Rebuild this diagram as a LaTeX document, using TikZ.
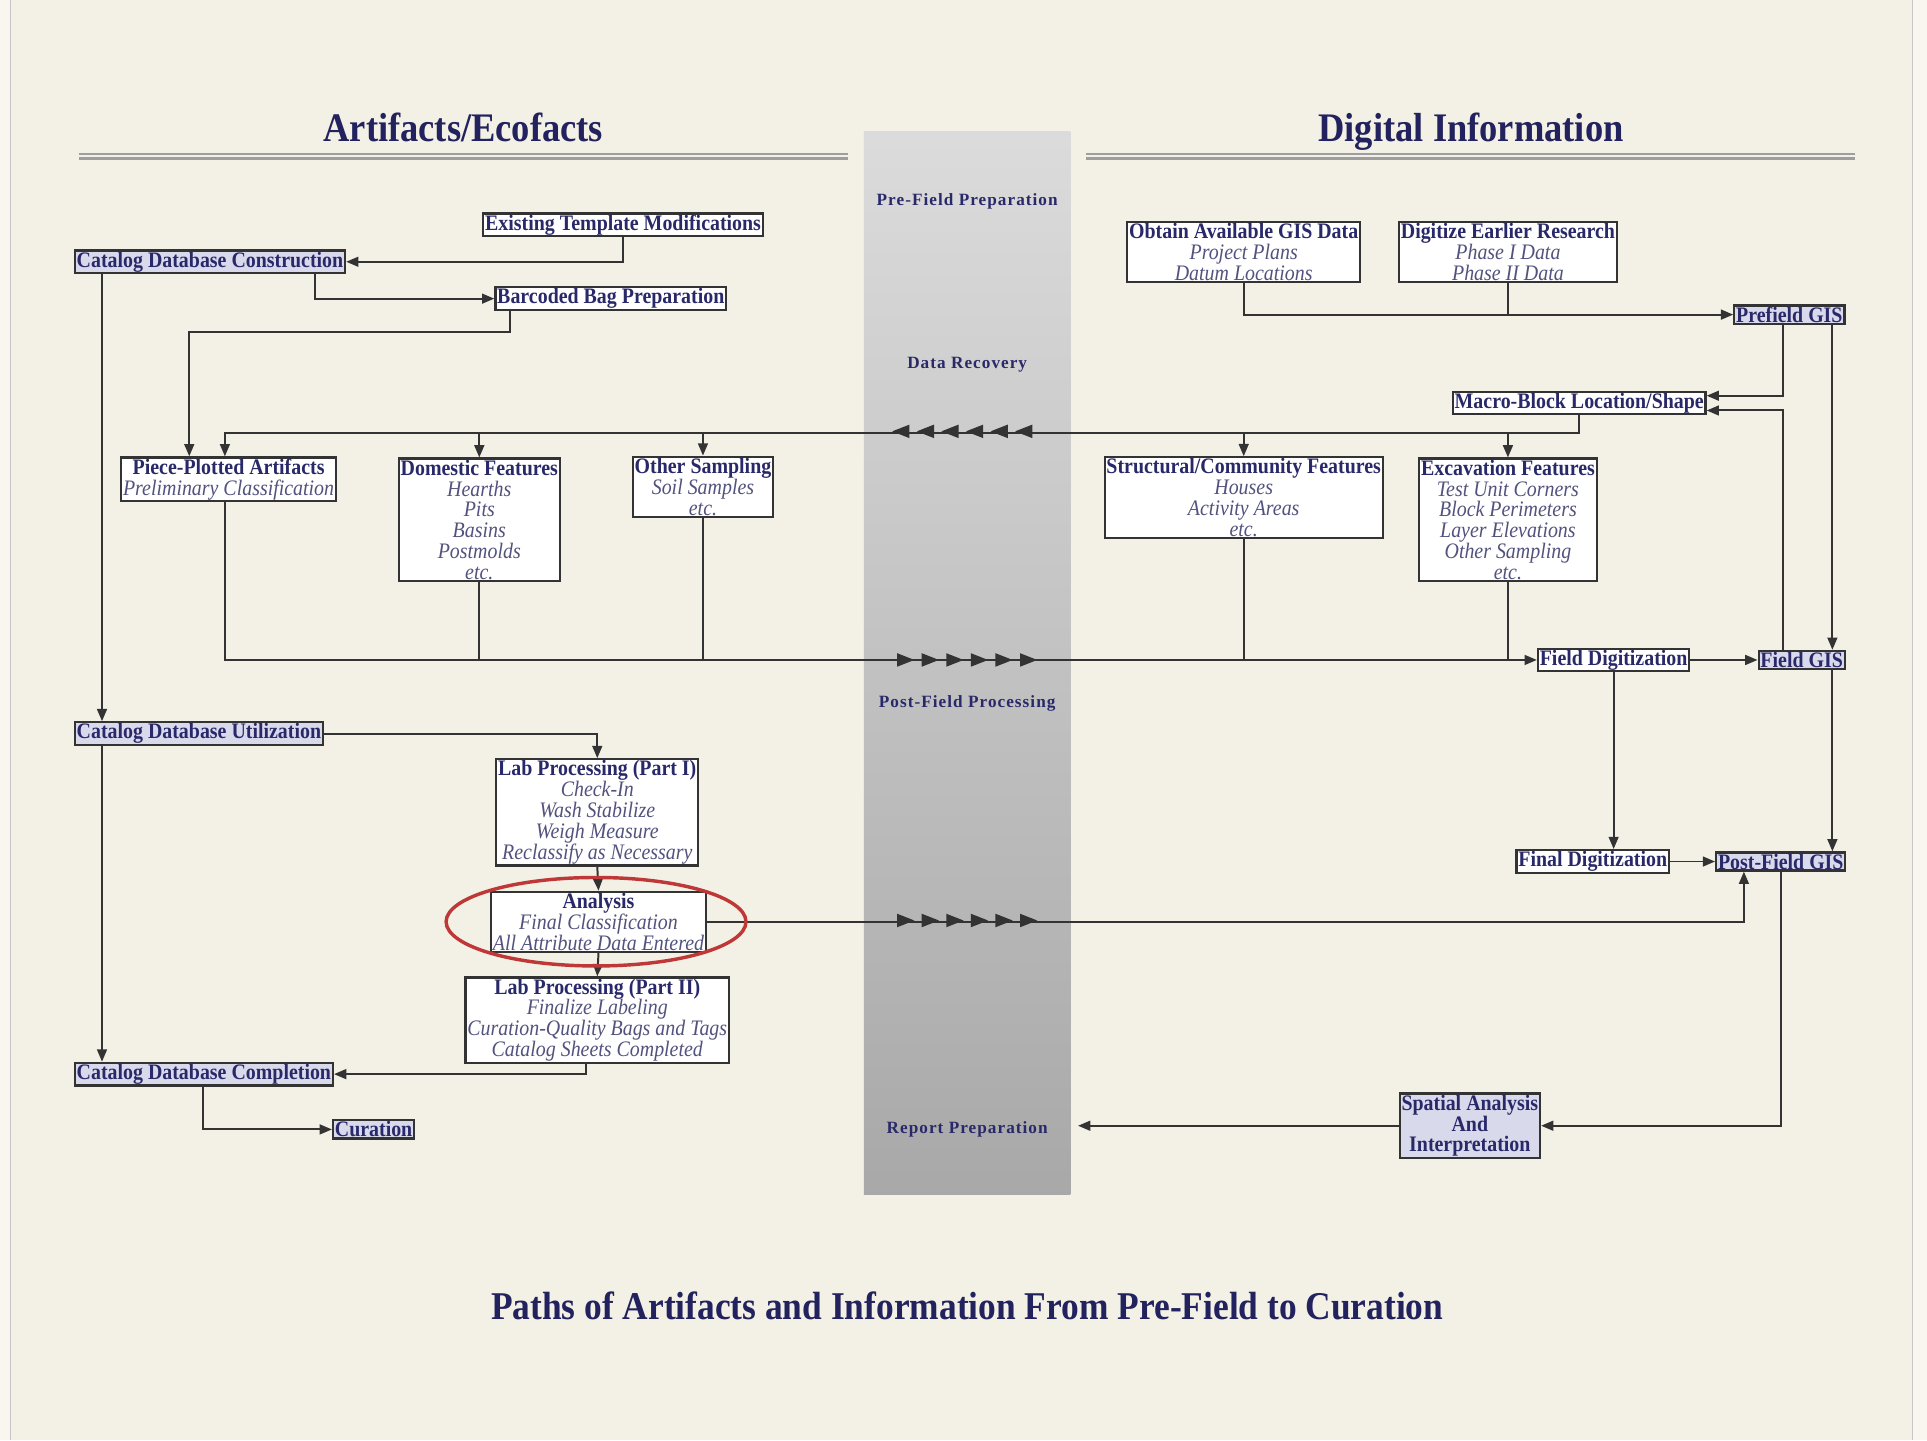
\documentclass[tikz,border=0pt]{standalone}
\usepackage{fontspec}
\setmainfont{Liberation Serif}[FakeStretch=0.9]
\newfontfamily\bandfont{Liberation Serif}[LetterSpace=6]
\usetikzlibrary{arrows.meta}
\definecolor{cream}{HTML}{F3F0E5}
\definecolor{paper}{HTML}{F8F6EF}
\definecolor{navy}{HTML}{22225E}
\definecolor{boxtitle}{HTML}{29296A}
\definecolor{boxsub}{HTML}{52527E}
\definecolor{boxline}{HTML}{333333}
\definecolor{wire}{HTML}{333333}
\definecolor{lav}{HTML}{D9D9EC}
\definecolor{rulegray}{HTML}{9E9E9E}
\definecolor{ring}{HTML}{BF3838}
\newcommand{\boxhead}[1]{{\upshape\bfseries\color{boxtitle}#1}}
\tikzset{
  box/.style={draw=boxline, line width=1.8pt, fill=white, inner xsep=1.5pt, inner ysep=1pt,
    align=center, text=boxsub, font=\fontsize{18}{17}\selectfont\itshape},
  lbox/.style={box, fill=lav},
  lnk/.style={draw=wire, line width=1.6pt},
  arr/.style={lnk, -{Triangle[length=10pt,width=8pt]}},
  heading/.style={text=navy, font=\bfseries\fontsize{33}{36}\selectfont, anchor=base},
  bandlbl/.style={text=boxtitle, font=\bandfont\bfseries\fontsize{14}{16}\selectfont},
  hrule/.style={draw=rulegray, line width=1.8pt, double=cream, double distance=2.2pt},
}
\begin{document}
\begin{tikzpicture}[x=1pt,y=-1pt]
\useasboundingbox (0,0) rectangle (1568,1172);
\fill[paper] (0,0) rectangle (1568,1172);
\fill[cream] (8,0) rectangle (1556,1172);
\draw[gray!45] (8,0) -- (8,1172) (1556,0) -- (1556,1172);
%
% the stages band
\node[minimum width=168pt, minimum height=865pt, inner sep=0pt,
  top color=black!14, bottom color=black!34] (band) at (787,539.5) {};
\node[bandlbl] (prelbl) at (787,164) {Pre-Field Preparation};
\node[bandlbl] (reclbl) at (787,297) {Data Recovery};
\node[bandlbl] (postlbl) at (787,572) {Post-Field Processing};
\node[bandlbl] (replbl) at (787,919) {Report Preparation};
%
\node[heading] (arthead) at (377,115) {Artifacts/Ecofacts};
\node[heading] (dighead) at (1197,115) {Digital Information};
\draw[hrule] (64,127) -- (690,127);
\draw[hrule] (884,127) -- (1509,127);
\node[heading, font=\bfseries\fontsize{32}{36}\selectfont] (caption) at (787,1074)
  {Paths of Artifacts and Information From Pre-Field to Curation};
%
% artifacts side
\node[lbox, anchor=west] (cdbcon) at (60,213) {\boxhead{Catalog Database Construction}};
\node[box] (etm) at (507,183) {\boxhead{Existing Template Modifications}};
\node[box] (barcode) at (497,243) {\boxhead{Barcoded Bag Preparation}};
\node[box] (piece) at (186,390) {\boxhead{Piece-Plotted Artifacts}\\Preliminary Classification};
\node[box] (domestic) at (390,423) {\boxhead{Domestic Features}\\Hearths\\Pits\\Basins\\Postmolds\\etc.};
\node[box] (othersamp) at (572,396) {\boxhead{Other Sampling}\\Soil Samples\\etc.};
\node[lbox, anchor=west] (cdbuse) at (60,597) {\boxhead{Catalog Database Utilization}};
\node[box] (lab1) at (486,661) {\boxhead{Lab Processing (Part I)}\\Check-In\\Wash Stabilize\\Weigh Measure\\Reclassify as Necessary};
\node[box] (analysis) at (487,750) {\boxhead{Analysis}\\Final Classification\\All Attribute Data Entered};
\node[box] (lab2) at (486,830) {\boxhead{Lab Processing (Part II)}\\Finalize Labeling\\Curation-Quality Bags and Tags\\Catalog Sheets Completed};
\node[lbox, anchor=west] (cdbcomp) at (60,874) {\boxhead{Catalog Database Completion}};
\node[lbox] (curation) at (304,919) {\boxhead{Curation}};
%
% digital side
\node[box] (obtain) at (1012,205) {\boxhead{Obtain Available GIS Data}\\Project Plans\\Datum Locations};
\node[box] (digitize) at (1227,205) {\boxhead{Digitize Earlier Research}\\Phase I Data\\Phase II Data};
\node[lbox] (prefield) at (1456,256) {\boxhead{Prefield GIS}};
\node[box] (macro) at (1285,328) {\boxhead{Macro-Block Location/Shape}};
\node[box] (structural) at (1012,405) {\boxhead{Structural/Community Features}\\Houses\\Activity Areas\\etc.};
\node[box] (excavation) at (1227,423) {\boxhead{Excavation Features}\\Test Unit Corners\\Block Perimeters\\Layer Elevations\\Other Sampling\\etc.};
\node[box] (fielddig) at (1313,537) {\boxhead{Field Digitization}};
\node[lbox] (fieldgis) at (1466,537) {\boxhead{Field GIS}};
\node[box] (finaldig) at (1296,701) {\boxhead{Final Digitization}};
\node[lbox] (postgis) at (1449,701) {\boxhead{Post-Field GIS}};
\node[lbox] (spatial) at (1196,916) {\boxhead{Spatial Analysis}\\\boxhead{And}\\\boxhead{Interpretation}};
%
% pre-field
\draw[arr] (etm.south) |- (cdbcon.east);
\draw[arr] ([xshift=-25pt]cdbcon.south east) |- (barcode.west);
\draw[arr] ([xshift=-82pt]barcode.south) -- ++(0,17) -| ([xshift=-32pt]piece.north);
\draw[arr] ([xshift=23pt]cdbcon.south west) -- ([xshift=23pt]cdbcon.south west |- cdbuse.north);
\draw[arr] (obtain.south) |- (prefield.west);
\draw[lnk] (digitize.south) -- (digitize.south |- prefield.west);
\draw[arr] ([xshift=-5pt]prefield.south) |- ([yshift=6pt]macro.east);
\draw[arr] ([xshift=35pt]prefield.south) -- ([xshift=35pt]prefield.south |- fieldgis.north);
%
% data recovery
\draw[arr] (macro.south) -- ++(0,14) coordinate (rec) -| ([xshift=-3pt]piece.north);
\foreach \n in {domestic,othersamp,structural,excavation}
  \draw[arr] (rec -| \n.north) -- (\n.north);
\foreach \k in {0,...,5}
  \fill[wire] (726+20*\k,351) -- ++(14,-5.5) -- ++(0,11) -- cycle;
%
% post-field
\draw[arr] ([xshift=-3pt]piece.south) |- (fielddig.west);
\foreach \n in {domestic,othersamp,structural,excavation}
  \draw[lnk] (\n.south) -- (\n.south |- fielddig.west);
\draw[arr] (fielddig.east) -- (fieldgis.west);
\draw[arr] ([xshift=-15pt]fieldgis.north) |- ([yshift=-6pt]macro.east);
\draw[arr] (fielddig.south) -- (fielddig.south |- finaldig.north);
\draw[arr] (finaldig.east) -- (postgis.west);
\draw[arr] ([xshift=25pt]fieldgis.south) -- ([xshift=25pt]fieldgis.south |- postgis.north);
\draw[arr] (cdbuse.east) -| (lab1.north);
\draw[arr] (lab1.south) -- (analysis.north);
\draw[arr] (analysis.south) -- (lab2.north);
\draw[arr] (analysis.east) -| ([xshift=-30pt]postgis.south);
\foreach \k in {0,...,5}{
  \fill[wire] (744+20*\k,537) -- ++(-14,-5.5) -- ++(0,11) -- cycle;
  \fill[wire] (744+20*\k,749) -- ++(-14,-5.5) -- ++(0,11) -- cycle;
}
\draw[arr] ([xshift=-9pt]lab2.south) |- (cdbcomp.east);
\draw[arr] ([xshift=23pt]cdbuse.south west) -- ([xshift=23pt]cdbuse.south west |- cdbcomp.north);
\draw[arr] ([xshift=105pt]cdbcomp.south west) |- (curation.west);
%
% report
\draw[arr] (postgis.south) |- (spatial.east);
\draw[arr] (spatial.west) -- ([xshift=6pt]band.east |- spatial.west);
%
\draw[ring, line width=2.8pt] ([xshift=-2pt]analysis.center) ellipse [x radius=122pt, y radius=36pt];
\end{tikzpicture}
\end{document}
